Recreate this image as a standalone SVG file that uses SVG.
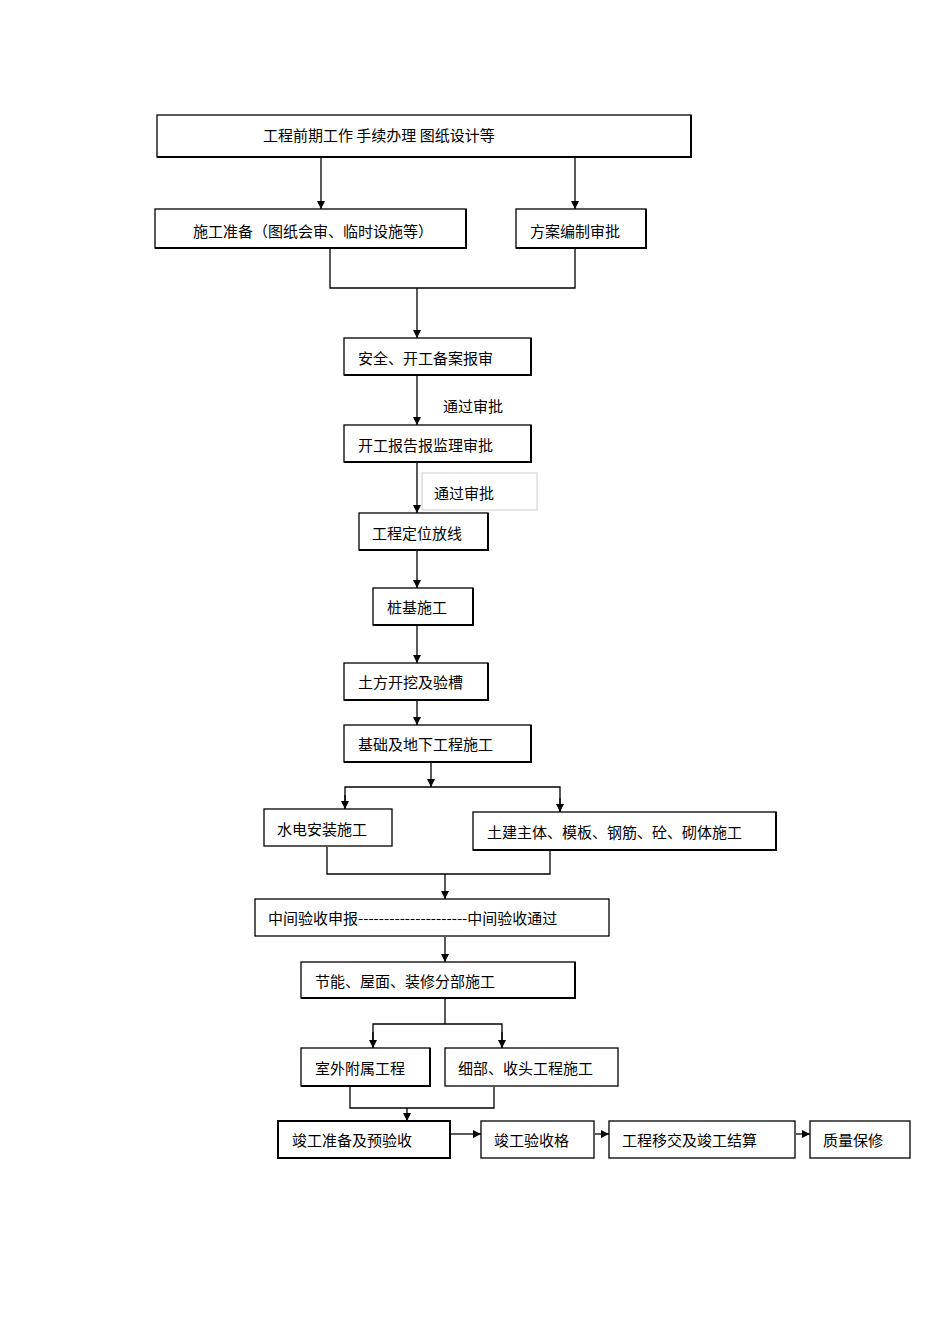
<svg xmlns="http://www.w3.org/2000/svg" width="950" height="1344" viewBox="0 0 950 1344">
<style>
.b{fill:#fff;stroke:#000;stroke-width:1.3}
.s{fill:none;stroke:#000;stroke-width:2}
.l{fill:none;stroke:#000;stroke-width:1.3}
text{font-family:"Noto Sans CJK SC","Liberation Sans",sans-serif;font-size:15px;fill:#000;dominant-baseline:central}
</style>
<defs><marker id="a" viewBox="0 0 10 10" refX="10" refY="5" markerWidth="8" markerHeight="8" markerUnits="userSpaceOnUse" orient="auto"><path d="M0,0L10,5L0,10z" fill="#000"/></marker></defs>
<rect width="950" height="1344" fill="#fff"/>
<g id="connectors" class="l">
<line x1="321" y1="158" x2="321" y2="209" marker-end="url(#a)"/>
<line x1="575" y1="158" x2="575" y2="209" marker-end="url(#a)"/>
<polyline points="330,249 330,288 575,288 575,249"/>
<line x1="417" y1="288" x2="417" y2="338" marker-end="url(#a)"/>
<line x1="417" y1="376" x2="417" y2="425" marker-end="url(#a)"/>
<line x1="417" y1="463" x2="417" y2="513" marker-end="url(#a)"/>
<line x1="417" y1="551" x2="417" y2="588" marker-end="url(#a)"/>
<line x1="417" y1="626" x2="417" y2="663" marker-end="url(#a)"/>
<line x1="417" y1="701" x2="417" y2="725" marker-end="url(#a)"/>
<line x1="431" y1="763" x2="431" y2="787" marker-end="url(#a)"/>
<polyline points="345,809 345,787 560,787 560,812" />
<line x1="345" y1="795" x2="345" y2="809" marker-end="url(#a)"/>
<line x1="560" y1="798" x2="560" y2="812" marker-end="url(#a)"/>
<polyline points="327,847 327,874 550,874 550,851"/>
<line x1="445" y1="874" x2="445" y2="899" marker-end="url(#a)"/>
<line x1="445" y1="937" x2="445" y2="962" marker-end="url(#a)"/>
<line x1="445" y1="999" x2="445" y2="1024"/>
<polyline points="373,1048 373,1024 502,1024 502,1048"/>
<line x1="373" y1="1032" x2="373" y2="1048" marker-end="url(#a)"/>
<line x1="502" y1="1032" x2="502" y2="1048" marker-end="url(#a)"/>
<polyline points="350,1087 350,1108 494,1108 494,1087"/>
<line x1="407" y1="1108" x2="407" y2="1121" marker-end="url(#a)"/>
<line x1="451" y1="1134" x2="481" y2="1134" marker-end="url(#a)"/>
<line x1="595" y1="1134" x2="609" y2="1134" marker-end="url(#a)"/>
<line x1="796" y1="1134" x2="810" y2="1134" marker-end="url(#a)"/>
</g>
<g id="label1"><text x="443" y="405">通过审批</text></g>
<g id="label2"><rect x="422" y="473" width="115" height="37" fill="#fff" stroke="#ccc" stroke-width="1"/><text x="434" y="492">通过审批</text></g>
<g id="n1"><rect class="b" x="157" y="115" width="534" height="42"/><path class="s" d="M691,115V157H157"/><text x="263" y="134">工程前期工作  手续办理  图纸设计等</text></g>
<g id="n2"><rect class="b" x="155" y="209" width="311" height="39"/><path class="s" d="M466,209V248H155"/><text x="193" y="230">施工准备（图纸会审、临时设施等）</text></g>
<g id="n3"><rect class="b" x="516" y="209" width="130" height="39"/><path class="s" d="M646,209V248H516"/><text x="530" y="230">方案编制审批</text></g>
<g id="n4"><rect class="b" x="344" y="338" width="187" height="37"/><path class="s" d="M531,338V375H344"/><text x="358" y="357">安全、开工备案报审</text></g>
<g id="n5"><rect class="b" x="344" y="425" width="187" height="37"/><path class="s" d="M531,425V462H344"/><text x="358" y="444">开工报告报监理审批</text></g>
<g id="n6"><rect class="b" x="359" y="513" width="129" height="37"/><path class="s" d="M488,513V550H359"/><text x="372" y="532">工程定位放线</text></g>
<g id="n7"><rect class="b" x="373" y="588" width="100" height="37"/><path class="s" d="M473,588V625H373"/><text x="387" y="606">桩基施工</text></g>
<g id="n8"><rect class="b" x="344" y="663" width="144" height="37"/><path class="s" d="M488,663V700H344"/><text x="358" y="681">土方开挖及验槽</text></g>
<g id="n9"><rect class="b" x="344" y="725" width="187" height="37"/><path class="s" d="M531,725V762H344"/><text x="358" y="743">基础及地下工程施工</text></g>
<g id="n10"><rect class="b" x="264" y="809" width="128" height="37"/><text x="277" y="828">水电安装施工</text></g>
<g id="n11"><rect class="b" x="473" y="812" width="303" height="38"/><path class="s" d="M776,812V850H473"/><text x="487" y="831">土建主体、模板、钢筋、砼、砌体施工</text></g>
<g id="n12"><rect class="b" x="255" y="899" width="354" height="37"/><text x="268" y="917">中间验收申报---------------------中间验收通过</text></g>
<g id="n13"><rect class="b" x="301" y="962" width="274" height="36"/><path class="s" d="M575,962V998H301"/><text x="315" y="980">节能、屋面、装修分部施工</text></g>
<g id="n14"><rect class="b" x="301" y="1048" width="129" height="38"/><path class="s" d="M430,1048V1086H301"/><text x="315" y="1067">室外附属工程</text></g>
<g id="n15"><rect class="b" x="445" y="1048" width="173" height="38"/><text x="458" y="1067">细部、收头工程施工</text></g>
<g id="n16"><rect class="b" x="278" y="1121" width="172" height="37"/><path class="s" d="M278,1121H450V1158H278z"/><text x="292" y="1139">竣工准备及预验收</text></g>
<g id="n17"><rect class="b" x="481" y="1121" width="113" height="37"/><text x="494" y="1139">竣工验收格</text></g>
<g id="n18"><rect class="b" x="609" y="1121" width="186" height="37"/><text x="622" y="1139">工程移交及竣工结算</text></g>
<g id="n19"><rect class="b" x="810" y="1121" width="100" height="37"/><text x="823" y="1139">质量保修</text></g>
</svg>
